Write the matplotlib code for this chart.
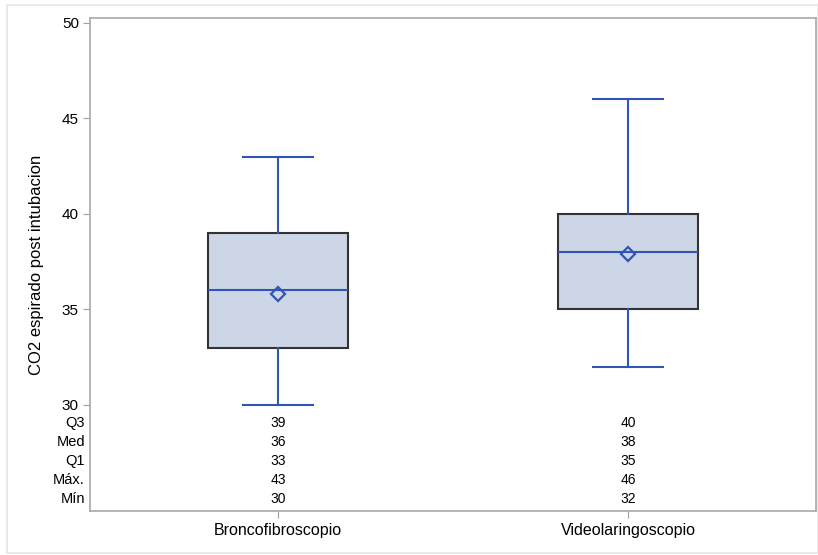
import matplotlib.pyplot as plt
import matplotlib.transforms as mtransforms
from matplotlib.patches import Rectangle

plt.rcParams['font.family'] = ['Liberation Sans', 'DejaVu Sans']

groups = ['Broncofibroscopio', 'Videolaringoscopio']
q3 = [39, 40]
med = [36, 38]
q1 = [33, 35]
vmax = [43, 46]
vmin = [30, 32]
means = [35.8, 37.9]

row_names = ['Q3', 'Med', 'Q1', 'Máx.', 'Mín']
row_y = [29.05, 28.05, 27.05, 26.05, 25.05]

blue = '#2f55b5'
fill = '#cdd6e6'

fig = plt.figure(figsize=(8.18, 5.55), dpi=100)
fig.patches.append(Rectangle((7 / 818, 2 / 555), 811 / 818, 548 / 555,
                             transform=fig.transFigure, fill=False,
                             edgecolor='#e6e6e6', linewidth=1.2))
ax = fig.add_axes([90 / 818, 1 - 511 / 555, 726 / 818, 493 / 555])

stats = []
for i, g in enumerate(groups):
    stats.append(dict(label=g, q1=q1[i], med=med[i], q3=q3[i],
                      whislo=vmin[i], whishi=vmax[i], mean=means[i], fliers=[]))

ax.bxp(stats, positions=[1, 2], widths=0.4, capwidths=0.2,
       patch_artist=True, showmeans=True,
       boxprops=dict(facecolor=fill, edgecolor='#333333', linewidth=1.5),
       whiskerprops=dict(color=blue, linewidth=1.5),
       capprops=dict(color=blue, linewidth=1.5),
       medianprops=dict(color=blue, linewidth=1.5),
       meanprops=dict(marker='D', markersize=7, markerfacecolor='none',
                      markeredgecolor=blue, markeredgewidth=1.6))

ax.set_xlim(0.463, 2.537)
ax.set_ylim(24.44, 50.26)
ax.set_yticks([30, 35, 40, 45, 50])
ax.set_xticks([1, 2])
ax.set_xticklabels(groups, fontsize=11.5)
ax.tick_params(axis='y', labelsize=11, length=5, color='#a0a0a0', pad=3)
ax.tick_params(axis='x', length=5, color='#a0a0a0', pad=4)
for s in ax.spines.values():
    s.set_color('#a8a8a8')
    s.set_linewidth(1.2)
ax.set_ylabel('CO2 espirado post intubacion', fontsize=12, labelpad=13)

# summary table under the boxes
trans = mtransforms.blended_transform_factory(ax.transAxes, ax.transData)
cols = [q3, med, q1, vmax, vmin]
for name, y, vals in zip(row_names, row_y, cols):
    ax.text(-0.007, y, name, transform=trans, ha='right', va='center', fontsize=10.5)
    for pos, v in zip([1, 2], vals):
        ax.text(pos, y, str(v), ha='center', va='center', fontsize=10)

fig.savefig('out.png', dpi=100)
